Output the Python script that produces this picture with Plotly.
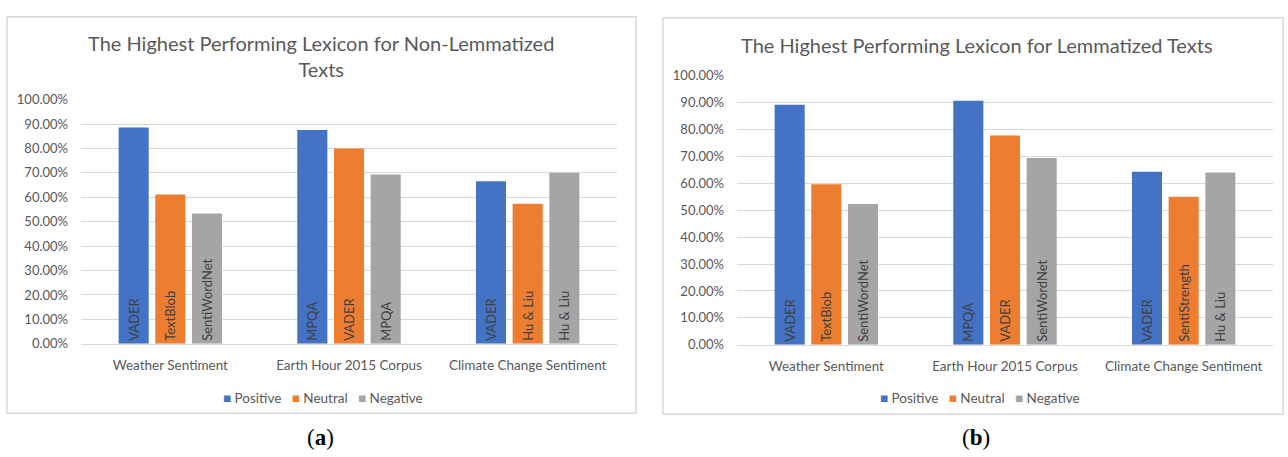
import plotly.graph_objects as go

# Corpora on the category axis
corpora = ["Weather Sentiment", "Earth Hour 2015 Corpus", "Climate Change Sentiment"]
classes = ["Positive", "Neutral", "Negative"]
colors = ["#4472C4", "#ED7D31", "#A5A5A5"]

# (a) Non-lemmatized texts: accuracy (%) of the best lexicon per class
nonlem_positive = [88.6, 87.6, 66.6]
nonlem_neutral = [61.2, 80.0, 57.4]
nonlem_negative = [53.4, 69.3, 70.1]
nonlem_lexicons_positive = ["VADER", "MPQA", "VADER"]
nonlem_lexicons_neutral = ["TextBlob", "VADER", "Hu & Liu"]
nonlem_lexicons_negative = ["SentiWordNet", "MPQA", "Hu & Liu"]

# (b) Lemmatized texts
lem_positive = [89.2, 90.6, 64.3]
lem_neutral = [59.6, 77.7, 55.0]
lem_negative = [52.3, 69.4, 64.0]
lem_lexicons_positive = ["VADER", "MPQA", "VADER"]
lem_lexicons_neutral = ["TextBlob", "VADER", "SentiStrength"]
lem_lexicons_negative = ["SentiWordNet", "SentiWordNet", "Hu & Liu"]

y_ticks = list(range(0, 101, 10))

W, H = 1288, 457
FONT = "Lato"
GREY_TXT = "#595959"


def px(x):
    return x / W


def py(y):
    return (H - y) / H


fig = go.Figure()

panels = [
    ("x", "y",
     [nonlem_positive, nonlem_neutral, nonlem_negative],
     [nonlem_lexicons_positive, nonlem_lexicons_neutral, nonlem_lexicons_negative]),
    ("x2", "y2",
     [lem_positive, lem_neutral, lem_negative],
     [lem_lexicons_positive, lem_lexicons_neutral, lem_lexicons_negative]),
]

for xa, ya, series, labels in panels:
    for name, vals, labs, col in zip(classes, series, labels, colors):
        fig.add_trace(go.Bar(
            x=corpora, y=vals, name=name, marker=dict(color=col, line=dict(width=0)),
            text=labs, textposition="inside", insidetextanchor="start",
            textangle=-90, textfont=dict(family=FONT, size=13, color="#404040"),
            constraintext="none", cliponaxis=False,
            xaxis=xa, yaxis=ya, showlegend=False, hoverinfo="skip",
        ))

axis_y = dict(
    range=[0, 100], tickvals=y_ticks, ticktext=[f"{v:.2f}%" for v in y_ticks],
    showgrid=True, gridcolor="#D9D9D9", gridwidth=1, zeroline=False,
    showline=False, ticks="", ticklabelstandoff=12,
    tickfont=dict(family=FONT, size=13, color=GREY_TXT), fixedrange=True,
)
axis_x = dict(
    showgrid=False, zeroline=False, showline=True, linecolor="#D9D9D9", linewidth=1,
    ticks="", ticklabelstandoff=9,
    tickfont=dict(family=FONT, size=13.5, color=GREY_TXT), fixedrange=True,
)

fig.update_layout(
    width=W, height=H, margin=dict(l=0, r=0, t=0, b=0),
    paper_bgcolor="white", plot_bgcolor="white",
    barmode="group", bargap=0.384, bargroupgap=0.18,
    xaxis=dict(domain=[px(81), px(617)], anchor="y", **axis_x),
    yaxis=dict(domain=[py(348), py(95)], anchor="x", **axis_y),
    xaxis2=dict(domain=[px(737), px(1273)], anchor="y2", **axis_x),
    yaxis2=dict(domain=[py(349), py(70)], anchor="x2", **axis_y),
    showlegend=False,
)

# Chart-area frames
fig.add_shape(type="rect", xref="paper", yref="paper",
              x0=px(7), x1=px(636), y0=py(420), y1=py(9),
              line=dict(color="#D9D9D9", width=1.5), layer="below")
fig.add_shape(type="rect", xref="paper", yref="paper",
              x0=px(663), x1=px(1283), y0=py(421), y1=py(10),
              line=dict(color="#D9D9D9", width=1.5), layer="below")

# Titles
fig.add_annotation(text="The Highest Performing Lexicon for Non-Lemmatized<br>Texts",
                   xref="paper", yref="paper", x=px(321), y=py(50),
                   xanchor="center", yanchor="middle", showarrow=False,
                   font=dict(family=FONT, size=20, color=GREY_TXT))
fig.add_annotation(text="The Highest Performing Lexicon for Lemmatized Texts",
                   xref="paper", yref="paper", x=px(977), y=py(38),
                   xanchor="center", yanchor="middle", showarrow=False,
                   font=dict(family=FONT, size=20, color=GREY_TXT))

# Legends (series key under each panel)
legend_html = "&nbsp;&nbsp;&nbsp;".join(
    f"<span style='color:{c}'>■</span>&nbsp;{n}" for n, c in zip(classes, colors)
)
for cx in (323, 980):
    fig.add_annotation(text=legend_html, xref="paper", yref="paper",
                       x=px(cx), y=py(404), xanchor="center", yanchor="middle",
                       showarrow=False,
                       font=dict(family=FONT, size=13.5, color=GREY_TXT))

# Panel captions
for cx, letter in [(320, "a"), (976, "b")]:
    fig.add_annotation(text=f"(<b>{letter}</b>)", xref="paper", yref="paper",
                       x=px(cx), y=py(445), xanchor="center", yanchor="middle",
                       showarrow=False,
                       font=dict(family="Liberation Serif", size=23, color="black"))

fig.write_html("out.html")
